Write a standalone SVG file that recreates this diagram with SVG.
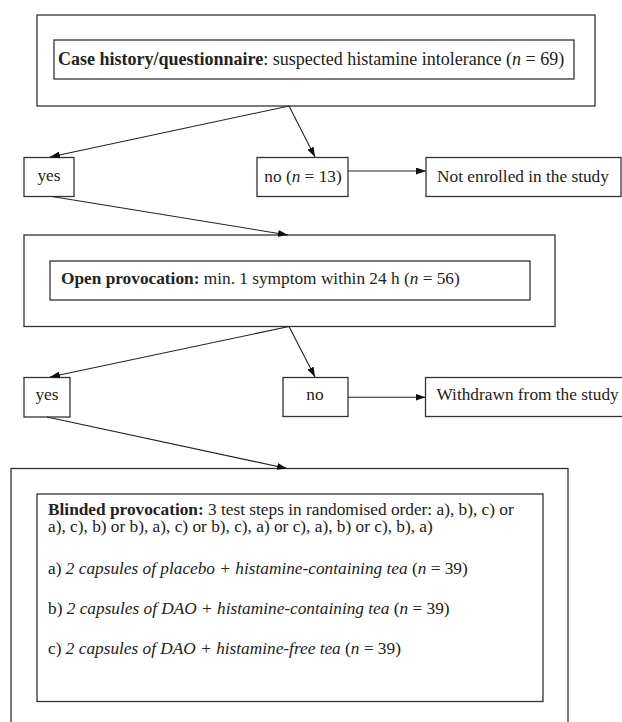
<svg xmlns="http://www.w3.org/2000/svg" width="622" height="722" viewBox="0 0 622 722">
<style>
.box{fill:none;stroke:#333;stroke-width:1.3}
.t{font-family:"Liberation Serif","Times New Roman",serif;font-size:17.3px;fill:#222}
.big{font-size:18px}
.c{text-anchor:middle}
.b{font-weight:bold}
.i{font-style:italic}
.ln{fill:none;stroke:#222;stroke-width:1.1}
</style>
<defs>
<marker id="ah" markerUnits="userSpaceOnUse" markerWidth="10" markerHeight="7" refX="10" refY="3.5" orient="auto">
<path d="M0,0 L10,3.5 L0,7 z" fill="#111"/>
</marker>
</defs>
<rect width="622" height="722" fill="#fff"/>
<g id="case-outer"><rect class="box" x="37" y="15" width="558" height="91"/></g>
<g id="case"><rect class="box" x="54" y="40" width="520" height="39"/>
<text class="t big" x="58" y="64.5"><tspan class="b">Case history/questionnaire</tspan>: suspected histamine intolerance (<tspan class="i">n</tspan> = 69)</text></g>
<g id="yes1"><rect class="box" x="24" y="157.5" width="50" height="39"/><text class="t c" x="49" y="181">yes</text></g>
<g id="no1"><rect class="box" x="257" y="157.5" width="91" height="39"/><text class="t c" x="303" y="181.5">no (<tspan class="i">n</tspan> = 13)</text></g>
<g id="notenrolled"><rect class="box" x="426" y="157.5" width="195" height="39"/><text class="t c" x="523" y="182">Not enrolled in the study</text></g>
<g id="open-outer"><rect class="box" x="24" y="235" width="531" height="91.5"/></g>
<g id="open"><rect class="box" x="50" y="261" width="480" height="39"/>
<text class="t" x="61" y="283.5"><tspan class="b">Open provocation:</tspan> min. 1 symptom within 24 h (<tspan class="i">n</tspan> = 56)</text></g>
<g id="yes2"><rect class="box" x="24" y="377.5" width="46" height="39.5"/><text class="t c" x="47" y="399.5">yes</text></g>
<g id="no2"><rect class="box" x="283" y="377.5" width="65" height="39"/><text class="t c" x="315" y="399.5">no</text></g>
<g id="withdrawn"><rect class="box" x="425.5" y="377.5" width="210" height="39"/><text class="t" x="436.5" y="399.5">Withdrawn from the study</text></g>
<g id="blinded-outer"><rect class="box" x="11" y="468.5" width="557" height="270"/></g>
<g id="blinded"><rect class="box" x="37" y="494" width="506" height="207.5"/>
<text class="t" x="48" y="514.5"><tspan class="b">Blinded provocation:</tspan> 3 test steps in randomised order: a), b), c) or</text>
<text class="t" x="48" y="532">a), c), b) or b), a), c) or b), c), a) or c), a), b) or c), b), a)</text>
<text class="t" x="48" y="573.5">a) <tspan class="i">2 capsules of placebo + histamine-containing tea</tspan> (<tspan class="i">n</tspan> = 39)</text>
<text class="t" x="48" y="614">b) <tspan class="i">2 capsules of DAO + histamine-containing tea</tspan> (<tspan class="i">n</tspan> = 39)</text>
<text class="t" x="48" y="653.5">c) <tspan class="i">2 capsules of DAO + histamine-free tea</tspan> (<tspan class="i">n</tspan> = 39)</text></g>
<g id="connectors">
<line class="ln" x1="289" y1="106" x2="50" y2="157" marker-end="url(#ah)"/>
<line class="ln" x1="289" y1="106" x2="315" y2="157" marker-end="url(#ah)"/>
<line class="ln" x1="348" y1="171" x2="426" y2="171" marker-end="url(#ah)"/>
<line class="ln" x1="52" y1="196.5" x2="288" y2="235" marker-end="url(#ah)"/>
<line class="ln" x1="289" y1="326.5" x2="50" y2="377" marker-end="url(#ah)"/>
<line class="ln" x1="289" y1="326.5" x2="315" y2="377" marker-end="url(#ah)"/>
<line class="ln" x1="348" y1="397.3" x2="425.5" y2="397.3" marker-end="url(#ah)"/>
<line class="ln" x1="47" y1="417" x2="287" y2="468.5" marker-end="url(#ah)"/>
</g>
</svg>
